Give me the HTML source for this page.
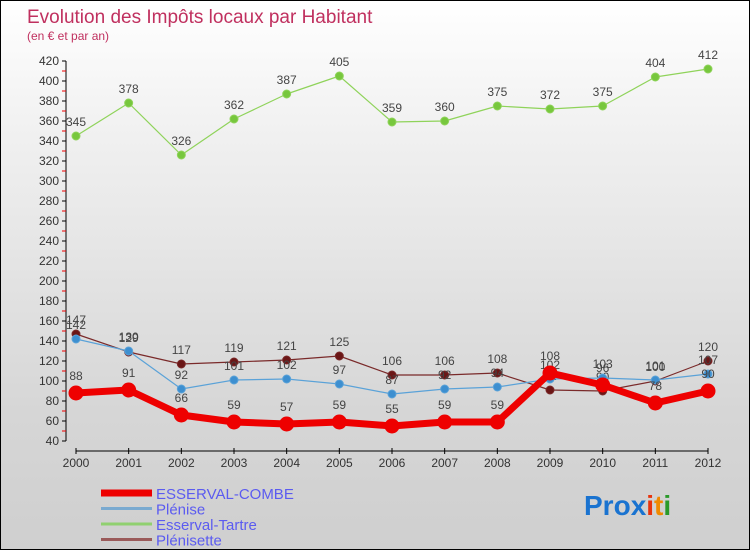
<!DOCTYPE html>
<html><head><meta charset="utf-8">
<style>
html,body{margin:0;padding:0;}
body{width:750px;height:550px;overflow:hidden;font-family:"Liberation Sans",sans-serif;}
#wrap{position:relative;width:748px;height:548px;border:1px solid #000;background:linear-gradient(#ffffff 0%,#f0f0f0 25%,#d6d6d6 75%,#cfcfcf 100%);}
</style></head>
<body>
<div id="wrap">
<svg id="chart" width="748" height="548" xmlns="http://www.w3.org/2000/svg">
<text x="26" y="22" font-size="19" fill="#c0305f">Evolution des Impôts locaux par Habitant</text>
<text x="26" y="39" font-size="12" fill="#c0305f">(en € et par an)</text>
<g id="axes"></g>
<g id="series"></g>
<g id="legend"></g>
<text x="583" y="514" font-size="28" font-weight="bold" font-family="Liberation Sans, sans-serif"><tspan fill="#1a73d0">Pro</tspan><tspan fill="#1a73d0">x</tspan><tspan fill="#e8340c">i</tspan><tspan fill="#f08a00">t</tspan><tspan fill="#2a9a2a">i</tspan></text>
</svg>
</div>
<script>
const years=["2000","2001","2002","2003","2004","2005","2006","2007","2008","2009","2010","2011","2012"];
const esservalCombe=[88,91,66,59,57,59,55,59,59,108,96,78,90];
const plenise=[142,130,92,101,102,97,87,92,94,102,103,101,107];
const esservalTartre=[345,378,326,362,387,405,359,360,375,372,375,404,412];
const plenisette=[147,129,117,119,121,125,106,106,108,91,90,100,120];
const yTicks=[40,60,80,100,120,140,160,180,200,220,240,260,280,300,320,340,360,380,400,420];
const NS="http://www.w3.org/2000/svg";
const X0=75,X1=707,Y0=440,Y1=60,VMIN=40,VMAX=420;
function xs(i){return X0+(X1-X0)*i/(years.length-1);}
function ys(v){return Y0-(v-VMIN)/(VMAX-VMIN)*(Y0-Y1);}
function mk(tag,attrs,parent){const e=document.createElementNS(NS,tag);for(const k in attrs)e.setAttribute(k,attrs[k]);parent.appendChild(e);return e;}
const axes=document.getElementById('axes');
const yAxis=mk('line',{x1:65,y1:Y1,x2:65,y2:Y0,stroke:'#000','stroke-width':1},axes);


yTicks.forEach(function(t,i){
  const y=ys(t);
  mk('line',{x1:61,y1:y,x2:65,y2:y,stroke:'#000'},axes);
  const lb=mk('text',{x:58,y:y+4,'font-size':12,fill:'#333','text-anchor':'end'},axes);
  lb.textContent=t;
  
  
  if(i<yTicks.length-1){const ym=ys(t+10);mk('line',{x1:61,y1:ym,x2:65,y2:ym,stroke:'#e00'},axes);}
});
const xAxis=mk('line',{x1:X0,y1:450,x2:X1,y2:450,stroke:'#000'},axes);


years.forEach(function(yr,i){
  const x=xs(i);
  mk('line',{x1:x,y1:447,x2:x,y2:453,stroke:'#000'},axes);
  const lb=mk('text',{x:x,y:466,'font-size':12,fill:'#333','text-anchor':'middle'},axes);
  lb.textContent=yr;
  
  
});
const seriesG=document.getElementById('series');
function drawSeries(vals,color,lw,r,name,dot){
  const g=mk('g',{},seriesG);
  
  
  const pts=vals.map(function(v,i){return xs(i)+','+ys(v);}).join(' ');
  const pl=mk('polyline',{points:pts,fill:'none',stroke:color,'stroke-width':lw,'stroke-linejoin':'round'},g);
  
  
  vals.forEach(function(v,i){
    const c=mk('circle',{cx:xs(i),cy:ys(v),r:r,fill:dot,stroke:color,'stroke-width':1},g);
    
    
    const t=mk('text',{x:xs(i),y:ys(v)-r-6,'font-size':12,fill:'#444','text-anchor':'middle'},g);
    t.textContent=v;
    
    
  });
}
drawSeries(esservalTartre,'#8fd35a',1.2,4,'esserval-tartre','#77c73d');
drawSeries(plenisette,'#7a2a2a',1.2,4,'plenisette','#6b1616');
drawSeries(plenise,'#5aa2d8',1.2,4,'plenise','#3d8fd0');
drawSeries(esservalCombe,'#ee0000',7,7,'esserval-combe','#ee0000');
const legend=document.getElementById('legend');
const items=[["ESSERVAL-COMBE","#ee0000",7],["Plénise","#7aaad0",3],["Esserval-Tartre","#90d070",3],["Plénisette","#9a5a5a",3]];
items.forEach(function(it,i){
  const y=492+i*15.5;
  const ln=mk('line',{x1:100,y1:y,x2:151,y2:y,stroke:it[1],'stroke-width':it[2]},legend);
  
  
  const t=mk('text',{x:155,y:y+6,'font-size':15,fill:'#5b5bf0'},legend);
  t.textContent=it[0];
  
  
});
</script>
</body></html>
